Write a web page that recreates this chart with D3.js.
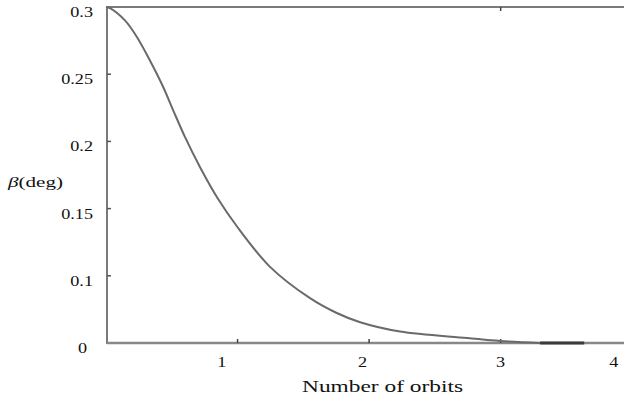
<!DOCTYPE html>
<html><head><meta charset="utf-8">
<script src="https://cdn.jsdelivr.net/npm/d3@7"></script>
<style>
body{margin:0;background:#fff}
text{font-family:"Liberation Serif","Times New Roman",serif;fill:#111}
</style>
</head><body><svg id="c" width="624" height="399"></svg>
<script>
// Data
const orbits = [0, 0.03, 0.144, 0.236, 0.335, 0.433, 0.51, 0.6, 0.715, 0.85, 0.996, 1.247, 1.551, 1.75, 1.932, 2.236, 2.745, 2.996, 3.3];
const beta   = [0.3, 0.299, 0.288, 0.273, 0.252, 0.229, 0.208, 0.184, 0.157, 0.129, 0.104, 0.068, 0.04, 0.027, 0.0185, 0.0102, 0.0045, 0.0018, 0];
const tailOrbits = [3.3, 3.635];
const tailBeta = [0, 0];
const xTicks = [1, 2, 3];
const xTickLabels = ["1", "2", "3", "4"];
const xLabelAt = [0.88, 1.95, 3.0, 3.86];
const yTicks = [0, 0.06, 0.12, 0.18, 0.24, 0.3];
const yTickLabels = ["0", "0.1", "0.15", "0.2", "0.25", "0.3"];

const svg = d3.select("#c");
const L = 107, R = 623, T = 7, B = 343;
const x = d3.scaleLinear().domain([0, 3.93]).range([106, 623]);
const y = d3.scaleLinear().domain([0, 0.3]).range([B, T]);

// frame
svg.append("rect").attr("x", L).attr("y", T).attr("width", R - L + 2).attr("height", B - T)
  .attr("fill", "none").attr("stroke", "#7a7a7a").attr("stroke-width", 2);
svg.append("line").attr("x1", L).attr("x2", 624).attr("y1", B).attr("y2", B)
  .attr("stroke", "#888").attr("stroke-width", 2.5);

// y ticks (inward)
svg.selectAll(".yt").data(yTicks.slice(1, -1)).join("line")
  .attr("x1", L).attr("x2", L + 4).attr("y1", d => y(d)).attr("y2", d => y(d))
  .attr("stroke", "#555").attr("stroke-width", 1.5);
// x ticks bottom and top
svg.selectAll(".xt").data(xTicks).join("line")
  .attr("x1", d => x(d)).attr("x2", d => x(d)).attr("y1", B).attr("y2", B - 4)
  .attr("stroke", "#444").attr("stroke-width", 1.5);
svg.selectAll(".xtt").data([3]).join("line")
  .attr("x1", d => x(d)).attr("x2", d => x(d)).attr("y1", T).attr("y2", T + 4)
  .attr("stroke", "#444").attr("stroke-width", 1.5);

// y tick labels
svg.selectAll(".yl").data(yTicks).join("text")
  .attr("transform", (d, i) => `translate(${i === 0 ? 87 : 93},${y(d) + 10}) scale(1.3,1)`)
  .attr("text-anchor", "end").attr("font-size", 14)
  .text((d, i) => yTickLabels[i]);

// x tick labels
svg.selectAll(".xl").data(xLabelAt).join("text")
  .attr("transform", d => `translate(${x(d)},367) scale(1.3,1)`)
  .attr("text-anchor", "middle").attr("font-size", 14)
  .text((d, i) => xTickLabels[i]);

// axis titles
svg.append("text").attr("x", 302).attr("y", 392).attr("font-size", 17)
  .attr("textLength", 161).attr("lengthAdjust", "spacingAndGlyphs").text("Number of orbits");
const yt = svg.append("text").attr("x", 8).attr("y", 187).attr("font-size", 15)
  .attr("textLength", 55).attr("lengthAdjust", "spacingAndGlyphs");
yt.append("tspan").attr("font-style", "italic").text("β");
yt.append("tspan").text("(deg)");

// curve
const pts = orbits.map((o, i) => [o, beta[i]]);
const line = d3.line().x(d => x(d[0])).y(d => y(d[1])).curve(d3.curveCatmullRom.alpha(0.5));
svg.append("path").attr("d", line(pts)).attr("fill", "none")
  .attr("stroke", "#6a6a6a").attr("stroke-width", 2);
const tail = tailOrbits.map((o, i) => [o, tailBeta[i]]);
svg.append("path").attr("d", d3.line().x(d => x(d[0])).y(d => y(d[1]))(tail))
  .attr("fill", "none").attr("stroke", "#3a3a3a").attr("stroke-width", 3);
</script>
</body></html>
